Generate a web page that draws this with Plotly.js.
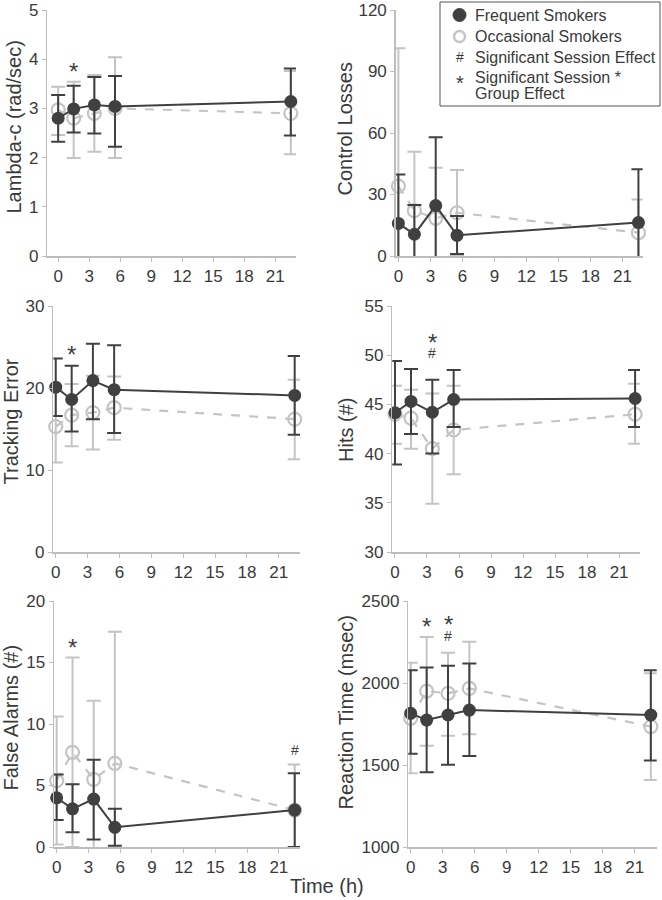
<!DOCTYPE html>
<html>
<head>
<meta charset="utf-8">
<script src="https://cdn.plot.ly/plotly-3.0.1.min.js"></script>
<style>html,body{margin:0;padding:0;background:#fff;}#chart{width:662px;height:900px;}</style>
</head>
<body>
<div id="chart"></div>
<script>
// ---- data ----
const times = [0, 1.5, 3.5, 5.5, 22.5];
const xTickVals = [0, 3, 6, 9, 12, 15, 18, 21];

// Lambda-c (rad/sec)
const lambdaFreq = [2.80, 2.99, 3.07, 3.04, 3.14];
const lambdaFreqUp = [0.47, 0.47, 0.57, 0.62, 0.67];
const lambdaFreqDn = [0.48, 0.48, 0.58, 0.82, 0.69];
const lambdaOcc = [2.97, 2.80, 2.90, 3.00, 2.90];
const lambdaOccUp = [0.47, 0.74, 0.78, 1.04, 0.86];
const lambdaOccDn = [0.51, 0.81, 0.78, 1.01, 0.83];

// Control Losses
const lossFreq = [15.9, 10.6, 24.6, 10.1, 16.3];
const lossFreqUp = [23.9, 14.3, 33.3, 9.4, 26.0];
const lossFreqDn = [23.9, 14.3, 33.3, 9.1, 26.0];
const lossOcc = [34.1, 22.1, 18.4, 21.1, 11.4];
const lossOccUp = [67.2, 28.8, 24.7, 20.9, 16.2];
const lossOccDn = [67.2, 28.8, 24.7, 20.9, 16.2];

// Tracking Error
const trackFreq = [20.1, 18.6, 20.9, 19.8, 19.1];
const trackFreqUp = [3.5, 4.1, 4.5, 5.4, 4.8];
const trackFreqDn = [3.5, 3.9, 4.7, 5.3, 4.8];
const trackOcc = [15.3, 16.7, 17.0, 17.6, 16.2];
const trackOccUp = [4.4, 3.8, 4.5, 3.8, 4.8];
const trackOccDn = [4.4, 3.8, 4.5, 3.9, 4.9];

// Hits (#)
const hitsFreq = [44.15, 45.3, 44.2, 45.5, 45.6];
const hitsFreqUp = [5.25, 3.3, 3.3, 3.0, 2.9];
const hitsFreqDn = [5.25, 3.3, 4.2, 2.8, 2.9];
const hitsOcc = [44.0, 43.6, 40.5, 42.4, 44.0];
const hitsOccUp = [2.9, 2.9, 5.6, 4.5, 3.1];
const hitsOccDn = [3.0, 3.1, 5.6, 4.5, 3.0];

// False Alarms (#)
const faFreq = [4.0, 3.1, 3.9, 1.6, 3.0];
const faFreqUp = [1.9, 2.0, 3.2, 1.5, 3.0];
const faFreqDn = [1.8, 1.9, 3.3, 1.5, 3.0];
const faOcc = [5.4, 7.7, 5.5, 6.8, 3.0];
const faOccUp = [5.2, 7.7, 6.4, 10.7, 3.7];
const faOccDn = [5.2, 7.7, 6.4, 10.7, 3.7];

// Reaction Time (msec)
const rtFreq = [1815, 1774, 1805, 1835, 1805];
const rtFreqUp = [263, 321, 300, 284, 273];
const rtFreqDn = [247, 318, 304, 280, 278];
const rtOcc = [1785, 1951, 1937, 1967, 1734];
const rtOccUp = [338, 330, 247, 284, 326];
const rtOccDn = [335, 333, 258, 280, 325];

// significance markers: [panel, x, y, symbol]
const sigMarks = [
  [1, 1.5, 3.88, '*'],
  [3, 1.5, 24.8, '*'],
  [4, 3.5, 51.9, '*'], [4, 3.5, 50.2, '#'],
  [5, 1.5, 16.7, '*'], [5, 22.5, 7.9, '#'],
  [6, 1.5, 2382, '*'], [6, 3.5, 2393, '*'], [6, 3.5, 2285, '#']
];

const panelTitles = ['Lambda-c (rad/sec)', 'Control Losses', 'Tracking Error', 'Hits (#)', 'False Alarms (#)', 'Reaction Time (msec)'];
const panelYRanges = [[0, 5], [0, 120], [0, 30], [30, 55], [0, 20], [1000, 2500]];
const panelYTicks = [[0,1,2,3,4,5], [0,30,60,90,120], [0,10,20,30], [30,35,40,45,50,55], [0,5,10,15,20], [1000,1500,2000,2500]];
const xTitle = 'Time (h)';

const legendNames = ['Frequent Smokers', 'Occasional Smokers', 'Significant Session Effect', 'Significant Session *', 'Group Effect'];

// ---- styling / layout ----
const DARK = '#404040';
const LIGHT = '#c4c4c4';
const AXIS = '#bdbdbd';
const TXT = '#3a3a3a';
const FONT = 'Liberation Sans, Arial, sans-serif';

const W = 662, H = 900;
const px = v => v / W;
const py = v => 1 - v / H;

// panel geometry in pixels: [left, right, top, bottom], x range, title centre [x, y]
const geom = [
  [47.3, 296, 10, 256, [-1.05, 23.0], [13.5, 127]],
  [395.7, 642.7, 10, 256, [-0.25, 22.9], [344.5, 129]],
  [53.3, 300, 306, 552, [-0.23, 23.0], [10.5, 422]],
  [392.3, 640, 306, 552, [-0.25, 22.96], [346, 430]],
  [54, 300, 601, 847, [-0.25, 23.0], [10.5, 718]],
  [408.3, 656.7, 601, 847, [-0.22, 23.05], [345.5, 712]]
];

const series = [
  [lambdaFreq, lambdaFreqUp, lambdaFreqDn, lambdaOcc, lambdaOccUp, lambdaOccDn],
  [lossFreq, lossFreqUp, lossFreqDn, lossOcc, lossOccUp, lossOccDn],
  [trackFreq, trackFreqUp, trackFreqDn, trackOcc, trackOccUp, trackOccDn],
  [hitsFreq, hitsFreqUp, hitsFreqDn, hitsOcc, hitsOccUp, hitsOccDn],
  [faFreq, faFreqUp, faFreqDn, faOcc, faOccUp, faOccDn],
  [rtFreq, rtFreqUp, rtFreqDn, rtOcc, rtOccUp, rtOccDn]
];

const traces = [];
const layout = {
  width: W, height: H,
  margin: {l: 0, r: 0, t: 0, b: 0},
  paper_bgcolor: '#fff', plot_bgcolor: '#fff',
  showlegend: false,
  font: {family: FONT, color: TXT},
  shapes: [], annotations: []
};

series.forEach((s, i) => {
  const n = i + 1;
  const xa = 'x' + (n === 1 ? '' : n), ya = 'y' + (n === 1 ? '' : n);
  const g = geom[i];
  const errStyle = (col, up, dn) => ({type: 'data', symmetric: false, array: up, arrayminus: dn,
    color: col, thickness: 2, width: 7});
  traces.push({x: times, y: s[3], xaxis: xa, yaxis: ya, type: 'scatter', mode: 'lines',
    line: {color: LIGHT, width: 2.2, dash: 'dash'}, error_y: errStyle(LIGHT, s[4], s[5]),
    cliponaxis: true, hoverinfo: 'skip'});
  traces.push({x: times, y: s[3], xaxis: xa, yaxis: ya, type: 'scatter', mode: 'markers',
    marker: {symbol: 'circle', size: 13, color: 'rgba(255,255,255,0)', line: {color: LIGHT, width: 2.2}},
    cliponaxis: false, hoverinfo: 'skip'});
  traces.push({x: times, y: s[0], xaxis: xa, yaxis: ya, type: 'scatter', mode: 'lines',
    line: {color: DARK, width: 2}, error_y: errStyle(DARK, s[1], s[2]),
    cliponaxis: true, hoverinfo: 'skip'});
  traces.push({x: times, y: s[0], xaxis: xa, yaxis: ya, type: 'scatter', mode: 'markers',
    marker: {symbol: 'circle', size: 13, color: DARK, line: {color: DARK, width: 0}},
    cliponaxis: false, hoverinfo: 'skip'});

  sigMarks.filter(m => m[0] === n).forEach(m => {
    const star = m[3] === '*';
    layout.annotations.push({xref: xa, yref: ya, x: m[1], y: m[2], text: m[3], showarrow: false,
      xanchor: 'center', yanchor: 'middle', yshift: star ? -6 : 0,
      font: {family: FONT, size: star ? 24 : 14, color: DARK}});
  });

  layout['xaxis' + (n === 1 ? '' : n)] = {
    domain: [px(g[0]), px(g[1])], anchor: ya, range: g[4],
    showline: true, linecolor: AXIS, linewidth: 1.5, showgrid: false, zeroline: false,
    ticks: 'outside', ticklen: 4, tickcolor: AXIS, tickwidth: 1,
    tickmode: 'array', tickvals: xTickVals, tickfont: {family: FONT, size: 17, color: TXT},
    fixedrange: true
  };
  layout['yaxis' + (n === 1 ? '' : n)] = {
    domain: [py(g[3]), py(g[2])], anchor: xa, range: panelYRanges[i],
    showline: true, linecolor: AXIS, linewidth: 1.5, showgrid: false, zeroline: false,
    ticks: 'outside', ticklen: 4, tickcolor: AXIS, tickwidth: 1,
    tickmode: 'array', tickvals: panelYTicks[i], tickfont: {family: FONT, size: 17, color: TXT},
    fixedrange: true
  };
  // y-axis title
  layout.annotations.push({xref: 'paper', yref: 'paper', x: px(g[5][0]), y: py(g[5][1]), text: panelTitles[i],
    textangle: -90, showarrow: false, xanchor: 'center', yanchor: 'middle',
    font: {family: FONT, size: 20, color: TXT}});
});

// x-axis shared title
layout.annotations.push({xref: 'paper', yref: 'paper', x: px(327), y: py(886), text: xTitle,
  showarrow: false, font: {family: FONT, size: 20, color: TXT}, xanchor: 'center', yanchor: 'middle'});

// legend box
layout.shapes.push({type: 'rect', xref: 'paper', yref: 'paper', x0: px(440), x1: px(660), y0: py(106), y1: py(2),
  line: {color: '#555', width: 1}, fillcolor: '#fff', layer: 'above'});
const r = 6.5;
layout.shapes.push({type: 'circle', xref: 'paper', yref: 'paper', x0: px(459.5 - r), x1: px(459.5 + r),
  y0: py(15 + r), y1: py(15 - r), fillcolor: DARK, line: {color: DARK, width: 1}, layer: 'above'});
layout.shapes.push({type: 'circle', xref: 'paper', yref: 'paper', x0: px(459.5 - r + 1), x1: px(459.5 + r - 1),
  y0: py(36.5 + r - 1), y1: py(36.5 - r + 1), fillcolor: '#fff', line: {color: LIGHT, width: 2.4}, layer: 'above'});
const legY = [15, 36.5, 57, 77.5, 93.5];
legendNames.forEach((name, k) => {
  layout.annotations.push({xref: 'paper', yref: 'paper', x: px(473), y: py(legY[k]), text: name,
    showarrow: false, xanchor: 'left', yanchor: 'middle', align: 'left',
    font: {family: FONT, size: 16, color: TXT}});
});
layout.annotations.push({xref: 'paper', yref: 'paper', x: px(459.5), y: py(57), text: '#', showarrow: false,
  font: {family: FONT, size: 14, color: TXT}, xanchor: 'center', yanchor: 'middle'});
layout.annotations.push({xref: 'paper', yref: 'paper', x: px(459.5), y: py(83), text: '*', showarrow: false,
  font: {family: FONT, size: 20, color: TXT}, xanchor: 'center', yanchor: 'middle'});

Plotly.newPlot('chart', traces, layout, {staticPlot: true, displayModeBar: false});
</script>
</body>
</html>
